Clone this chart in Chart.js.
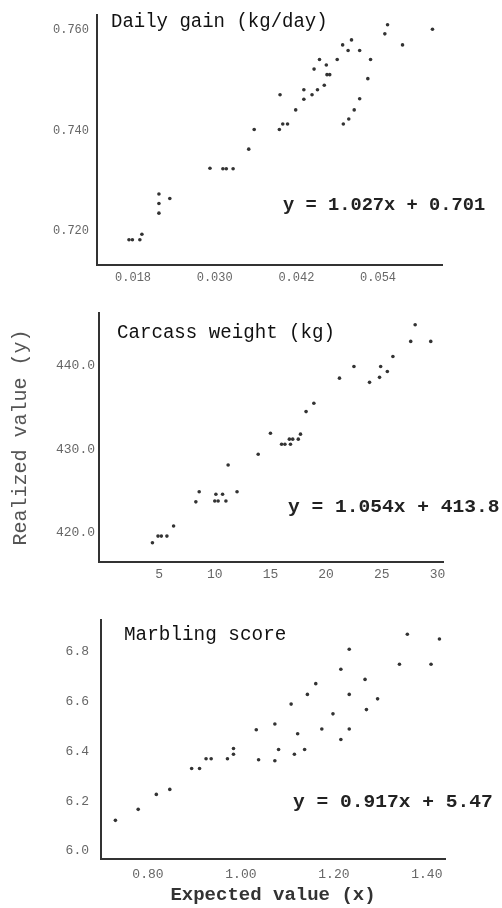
<!DOCTYPE html>
<html>
<head>
<meta charset="utf-8">
<script src="https://cdn.jsdelivr.net/npm/chart.js@4.4.0/dist/chart.umd.min.js"></script>
<style>
  body { margin: 0; background: #fff; }
  #wrap { position: relative; width: 502px; height: 908px; }
  canvas { position: absolute; left: 0; }
</style>
</head>
<body>
<div id="wrap">
  <canvas id="gainChart" width="502" height="300" style="top:0"></canvas>
  <canvas id="carcassChart" width="502" height="300" style="top:300px"></canvas>
  <canvas id="marblingChart" width="502" height="308" style="top:600px"></canvas>
</div>
<script>
// Daily gain (kg/day)
const gainX = [0.0554, 0.0550, 0.0620, 0.0501, 0.0488, 0.0576, 0.0496, 0.0513, 0.0454, 0.0480, 0.0529,
  0.0464, 0.0446, 0.0465, 0.0469, 0.0525, 0.0461, 0.0431, 0.0451, 0.0396, 0.0443, 0.0431, 0.0513,
  0.0419, 0.0505, 0.0497, 0.0489, 0.0400, 0.0407, 0.0395, 0.0358, 0.0350, 0.0293, 0.0312, 0.0317,
  0.0327, 0.0218, 0.0218, 0.0218, 0.0234, 0.0174, 0.0179, 0.0190, 0.0193];
const gainY = [0.7610, 0.7592, 0.7601, 0.7580, 0.7570, 0.7570, 0.7559, 0.7559, 0.7541, 0.7541, 0.7541,
  0.7530, 0.7522, 0.7511, 0.7511, 0.7503, 0.7490, 0.7481, 0.7481, 0.7471, 0.7471, 0.7462, 0.7463,
  0.7441, 0.7441, 0.7423, 0.7413, 0.7413, 0.7413, 0.7402, 0.7402, 0.7363, 0.7325, 0.7324, 0.7324,
  0.7324, 0.7274, 0.7255, 0.7236, 0.7265, 0.7183, 0.7183, 0.7183, 0.7194];
const gainXTicks = [0.018, 0.030, 0.042, 0.054];
const gainYTicks = [0.720, 0.740, 0.760];

// Carcass weight (kg)
const carcassX = [28.0, 27.6, 29.4, 26.0, 22.5, 24.9, 25.5, 21.2, 24.8, 23.9, 18.9, 18.2, 15.0, 17.7,
  16.7, 17.0, 17.5, 16.0, 16.3, 16.8, 13.9, 11.2, 8.6, 12.0, 8.3, 10.1, 10.7, 10.0, 10.3, 11.0,
  6.3, 4.9, 5.2, 5.7, 4.4];
const carcassY = [444.9, 442.9, 442.9, 441.1, 439.9, 439.9, 439.3, 438.5, 438.6, 438.0, 435.5, 434.5,
  431.9, 431.8, 431.2, 431.2, 431.2, 430.6, 430.6, 430.6, 429.4, 428.1, 424.9, 424.9, 423.7, 424.6,
  424.6, 423.8, 423.8, 423.8, 420.8, 419.6, 419.6, 419.6, 418.8];
const carcassXTicks = [5, 10, 15, 20, 25, 30];
const carcassYTicks = [420, 430, 440];

// Marbling score
const marblingX = [1.358, 1.427, 1.233, 1.341, 1.409, 1.215, 1.267, 1.161, 1.143, 1.233, 1.294, 1.108,
  1.198, 1.270, 1.033, 1.073, 1.122, 1.174, 1.233, 1.215, 0.984, 1.081, 1.137, 0.984, 1.115, 0.925,
  0.936, 0.971, 1.038, 1.073, 0.894, 0.911, 0.847, 0.818, 0.779, 0.730];
const marblingY = [6.869, 6.850, 6.809, 6.749, 6.749, 6.729, 6.688, 6.671, 6.628, 6.628, 6.610, 6.589,
  6.550, 6.567, 6.486, 6.509, 6.470, 6.489, 6.489, 6.447, 6.411, 6.407, 6.407, 6.388, 6.388, 6.370,
  6.370, 6.370, 6.366, 6.362, 6.331, 6.331, 6.247, 6.227, 6.167, 6.123];
const marblingXTicks = [0.80, 1.00, 1.20, 1.40];
const marblingYTicks = [6.0, 6.2, 6.4, 6.6, 6.8];

const MONO = "'Liberation Mono', 'DejaVu Sans Mono', monospace";

// draws the panel captions and regression equations
const notesPlugin = {
  id: 'notes',
  afterDraw(chart, args, opts) {
    const ctx = chart.ctx;
    (opts.items || []).forEach(t => {
      ctx.save();
      ctx.font = t.font;
      ctx.fillStyle = t.color || '#222';
      ctx.textBaseline = 'middle';
      ctx.translate(t.x, t.y);
      ctx.scale(t.sx || 1, 1);
      ctx.fillText(t.text, 0, 0);
      ctx.restore();
    });
  }
};

function makePanel(id, xs, ys, p) {
  const points = xs.map((x, i) => ({ x: x, y: ys[i] }));
  return new Chart(document.getElementById(id), {
    type: 'scatter',
    data: {
      datasets: [{
        data: points,
        backgroundColor: '#333',
        borderWidth: 0,
        pointRadius: 1.8
      }]
    },
    options: {
      responsive: false,
      animation: false,
      layout: { padding: p.padding },
      plugins: {
        legend: { display: false },
        tooltip: { enabled: false },
        notes: { items: p.notes }
      },
      scales: {
        x: {
          type: 'linear',
          min: p.xMin,
          max: p.xMax,
          grid: { display: false, drawTicks: false },
          border: { display: true, color: '#333', width: 2 },
          afterBuildTicks: s => { s.ticks = p.xTicks.map(v => ({ value: v })); },
          afterFit: s => { s.height = p.xHeight; },
          ticks: {
            padding: p.xPad,
            color: '#666',
            font: { family: MONO, size: p.xFont },
            callback: p.xFmt
          },
          title: p.xTitle || { display: false }
        },
        y: {
          type: 'linear',
          min: p.yMin,
          max: p.yMax,
          grid: { display: false, drawTicks: false },
          border: { display: true, color: '#333', width: 2 },
          afterBuildTicks: s => { s.ticks = p.yTicks.map(v => ({ value: v })); },
          afterFit: s => { s.width = p.yWidth; },
          ticks: {
            padding: p.yPad,
            color: '#666',
            font: { family: MONO, size: p.yFont },
            callback: p.yFmt
          },
          title: p.yTitle || { display: false }
        }
      }
    },
    plugins: [notesPlugin]
  });
}

makePanel('gainChart', gainX, gainY, {
  padding: { left: 0, right: 60, top: 5, bottom: 0 },
  xMin: 0.0127, xMax: 0.0634, yMin: 0.7133, yMax: 0.7629,
  xTicks: gainXTicks, yTicks: gainYTicks,
  xFmt: v => v.toFixed(3), yFmt: v => v.toFixed(3),
  xHeight: 35, yWidth: 97, xPad: 6, yPad: 8, xFont: 12, yFont: 12,
  notes: [
    { text: 'Daily gain (kg/day)', x: 111, y: 22, font: '20px ' + MONO, sx: 0.95, color: '#111' },
    { text: 'y = 1.027x + 0.701', x: 283, y: 205, font: 'bold 18px ' + MONO, sx: 1.04, color: '#222' }
  ]
});

makePanel('carcassChart', carcassX, carcassY, {
  padding: { left: 0, right: 59, top: 13, bottom: 0 },
  xMin: -0.4, xMax: 30.5, yMin: 416.5, yMax: 446.3,
  xTicks: carcassXTicks, yTicks: carcassYTicks,
  xFmt: v => String(v), yFmt: v => v.toFixed(1),
  xHeight: 38, yWidth: 99, xPad: 5, yPad: 4, xFont: 13, yFont: 13,
  yTitle: {
    display: true,
    text: 'Realized value (y)',
    color: '#555',
    font: { family: MONO, size: 20 },
    padding: { top: 9, bottom: 0 }
  },
  notes: [
    { text: 'Carcass weight (kg)', x: 117, y: 33, font: '20px ' + MONO, sx: 0.956, color: '#111' },
    { text: 'y = 1.054x + 413.8', x: 288, y: 207, font: 'bold 19px ' + MONO, sx: 1.03, color: '#222' }
  ]
});

makePanel('marblingChart', marblingX, marblingY, {
  padding: { left: 0, right: 57, top: 13, bottom: 0 },
  xMin: 0.699, xMax: 1.439, yMin: 5.968, yMax: 6.927,
  xTicks: marblingXTicks, yTicks: marblingYTicks,
  xFmt: v => v.toFixed(2), yFmt: v => v.toFixed(1),
  xHeight: 49, yWidth: 101, xPad: 8, yPad: 12, xFont: 13, yFont: 13,
  xTitle: {
    display: true,
    text: 'Expected value (x)',
    color: '#333',
    font: { family: MONO, size: 19, weight: 'bold' },
    padding: { top: 0, bottom: 1 }
  },
  notes: [
    { text: 'Marbling score', x: 124, y: 35, font: '20px ' + MONO, sx: 0.966, color: '#111' },
    { text: 'y = 0.917x + 5.47', x: 293, y: 202, font: 'bold 19px ' + MONO, sx: 1.03, color: '#222' }
  ]
});
</script>
</body>
</html>
